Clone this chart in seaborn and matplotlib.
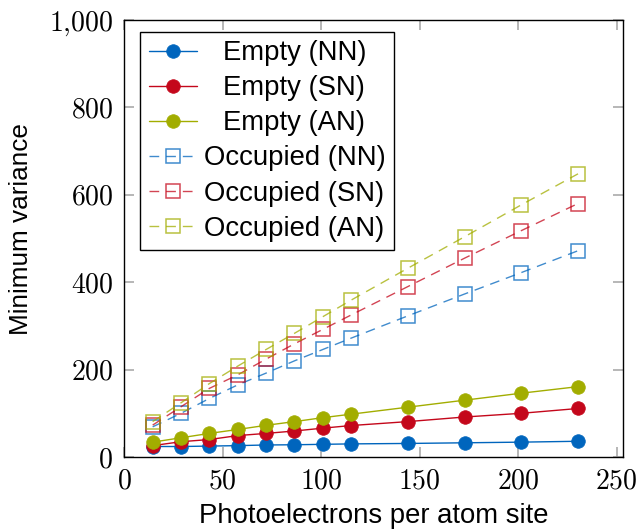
import matplotlib
matplotlib.use("Agg")
import matplotlib.pyplot as plt
import seaborn as sns
import pandas as pd
from matplotlib.ticker import FuncFormatter

# ---- data ----
photoelectrons = [14.4, 28.8, 43.2, 57.6, 72.0, 86.4, 100.8, 115.2, 144.0, 172.8, 201.6, 230.4]
empty_nn = [24, 24, 25, 26, 27.5, 28, 29, 30, 31, 32.5, 34, 36]
empty_sn = [26, 35, 40, 49, 54, 59.5, 66, 72, 81, 91.5, 100, 111]
empty_an = [34, 44, 54, 63, 72.5, 81, 90, 98, 114, 130, 146, 161]
occupied_nn = [69, 100, 134, 165, 192, 220, 246, 272, 323, 373, 422, 472]
occupied_sn = [73, 115, 157, 188, 224, 259, 292, 325, 390, 455, 518, 580]
occupied_an = [81, 124, 168, 208, 246, 283, 321, 359, 432, 504, 577, 648]

labels = ["Empty (NN)", "Empty (SN)", "Empty (AN)",
          "Occupied (NN)", "Occupied (SN)", "Occupied (AN)"]
x_ticks = [0, 50, 100, 150, 200, 250]
y_ticks = [0, 200, 400, 600, 800, 1000]

blue = "#0065BD"
red = "#C4071B"
olive = "#A2AD00"

sns.set_style("ticks")
plt.rcParams["font.family"] = ["Liberation Sans", "DejaVu Sans"]
plt.rcParams["mathtext.fontset"] = "cm"
plt.rcParams["text.color"] = "black"
plt.rcParams["axes.labelcolor"] = "black"
plt.rcParams["xtick.labelcolor"] = "black"
plt.rcParams["ytick.labelcolor"] = "black"

fig = plt.figure(figsize=(6.4, 5.3), dpi=100)
ax = fig.add_axes([124.3 / 640, 1 - 457 / 530, 499 / 640, 437 / 530])

series = [
    (empty_nn, blue, "o", True),
    (empty_sn, red, "o", True),
    (empty_an, olive, "o", True),
    (occupied_nn, blue, "s", False),
    (occupied_sn, red, "s", False),
    (occupied_an, olive, "s", False),
]

for (vals, col, mk, filled), lab in zip(series, labels):
    df = pd.DataFrame({"x": photoelectrons, "y": vals})
    if filled:
        sns.lineplot(data=df, x="x", y="y", ax=ax, color=col, linewidth=1.0,
                     marker=mk, markersize=9.8, markerfacecolor=col,
                     markeredgecolor=col, markeredgewidth=0.5, label=lab)
    else:
        sns.lineplot(data=df, x="x", y="y", ax=ax, color=col, linewidth=1.0,
                     alpha=0.75, marker=mk, markersize=9.5, markerfacecolor="none",
                     markeredgecolor=col, markeredgewidth=1.1, label=lab)
        ax.lines[-1].set_linestyle((0, (7, 5)))

ax.set_xlim(0, 253.4)
ax.set_ylim(0, 1000)
ax.set_xticks(x_ticks)
ax.set_yticks(y_ticks)


def fmt(v, pos):
    s = f"{int(v):,}".replace(",", "{,}")
    return f"${s}$"


ax.xaxis.set_major_formatter(FuncFormatter(fmt))
ax.yaxis.set_major_formatter(FuncFormatter(fmt))
ax.tick_params(axis="both", which="major", direction="in", length=7, width=1.2,
               color="#aaaaaa", labelsize=20, top=True, right=True, pad=8)

for sp in ax.spines.values():
    sp.set_color("black")
    sp.set_linewidth(1.0)

ax.set_xlabel("Photoelectrons per atom site", fontsize=19.8)
ax.set_ylabel("Minimum variance", fontsize=18.8)
ax.xaxis.set_label_coords(0.5, (457 - 503) / 437)
ax.yaxis.set_label_coords((33 - 124.3) / 499, (457 - 229) / 437)

leg = ax.legend(loc="upper left", bbox_to_anchor=(16 / 499, 1 - 12 / 437),
                borderaxespad=0, fontsize=19.8, frameon=True, fancybox=False,
                edgecolor="black", framealpha=1, handlelength=1.75,
                handletextpad=0.25, labelspacing=0.33, borderpad=0.3)
leg.get_frame().set_linewidth(1.0)

fig.canvas.draw()
renderer = fig.canvas.get_renderer()
texts = leg.get_texts()
widths = [t.get_window_extent(renderer).width for t in texts]
wmax = max(widths)
for t, w in zip(texts, widths):
    t.set_position(((wmax - w) / 2, 0))

fig.savefig("out.png", dpi=100)
